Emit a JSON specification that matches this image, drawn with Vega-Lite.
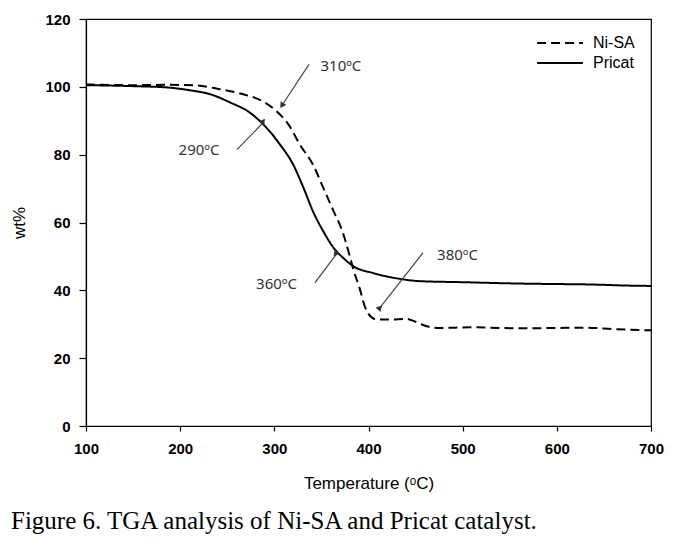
{
  "$schema": "https://vega.github.io/schema/vega-lite/v6.json",
  "width": 565,
  "height": 407,
  "autosize": {"type": "none"},
  "padding": {"left": 86, "top": 19, "right": 31, "bottom": 124},
  "background": "white",
  "config": {
    "view": {"stroke": "black", "strokeWidth": 1.2},
    "axis": {
      "grid": false,
      "labelFlush": false,
      "domainColor": "black",
      "domainWidth": 1.2,
      "tickColor": "black",
      "tickWidth": 1.2,
      "labelColor": "black",
      "titleColor": "black",
      "labelFont": "Liberation Sans",
      "labelFontWeight": "bold",
      "labelFontSize": 15,
      "titleFont": "Liberation Sans",
      "titleFontWeight": "normal",
      "titleFontSize": 17
    }
  },
  "title": {
    "text": "Figure 6. TGA analysis of Ni-SA and Pricat catalyst.",
    "orient": "bottom",
    "anchor": "start",
    "font": "Liberation Serif",
    "fontSize": 25,
    "fontWeight": "normal",
    "color": "black",
    "dx": 0,
    "offset": 18
  },
  "datasets": {
    "tga": [
      {"T": 100, "wt": 100.5, "sample": "Pricat"},
      {"T": 150, "wt": 100.2, "sample": "Pricat"},
      {"T": 187, "wt": 99.8, "sample": "Pricat"},
      {"T": 210, "wt": 99.0, "sample": "Pricat"},
      {"T": 232, "wt": 97.8, "sample": "Pricat"},
      {"T": 253, "wt": 95.4, "sample": "Pricat"},
      {"T": 274, "wt": 92.4, "sample": "Pricat"},
      {"T": 288, "wt": 89.0, "sample": "Pricat"},
      {"T": 306, "wt": 83.0, "sample": "Pricat"},
      {"T": 320, "wt": 77.1, "sample": "Pricat"},
      {"T": 331, "wt": 70.2, "sample": "Pricat"},
      {"T": 341, "wt": 63.3, "sample": "Pricat"},
      {"T": 352, "wt": 57.4, "sample": "Pricat"},
      {"T": 363, "wt": 52.5, "sample": "Pricat"},
      {"T": 373, "wt": 49.6, "sample": "Pricat"},
      {"T": 384, "wt": 47.1, "sample": "Pricat"},
      {"T": 405, "wt": 45.1, "sample": "Pricat"},
      {"T": 433, "wt": 43.4, "sample": "Pricat"},
      {"T": 455, "wt": 42.7, "sample": "Pricat"},
      {"T": 500, "wt": 42.4, "sample": "Pricat"},
      {"T": 560, "wt": 42.0, "sample": "Pricat"},
      {"T": 585, "wt": 41.9, "sample": "Pricat"},
      {"T": 640, "wt": 41.7, "sample": "Pricat"},
      {"T": 675, "wt": 41.4, "sample": "Pricat"},
      {"T": 700, "wt": 41.3, "sample": "Pricat"},
      {"T": 100, "wt": 100.7, "sample": "Ni-SA"},
      {"T": 150, "wt": 100.5, "sample": "Ni-SA"},
      {"T": 187, "wt": 100.6, "sample": "Ni-SA"},
      {"T": 218, "wt": 100.4, "sample": "Ni-SA"},
      {"T": 242, "wt": 99.3, "sample": "Ni-SA"},
      {"T": 267, "wt": 97.8, "sample": "Ni-SA"},
      {"T": 288, "wt": 95.7, "sample": "Ni-SA"},
      {"T": 302, "wt": 92.9, "sample": "Ni-SA"},
      {"T": 316, "wt": 88.5, "sample": "Ni-SA"},
      {"T": 327, "wt": 83.0, "sample": "Ni-SA"},
      {"T": 341, "wt": 77.1, "sample": "Ni-SA"},
      {"T": 352, "wt": 70.2, "sample": "Ni-SA"},
      {"T": 363, "wt": 63.3, "sample": "Ni-SA"},
      {"T": 372, "wt": 57.6, "sample": "Ni-SA"},
      {"T": 378.5, "wt": 51.7, "sample": "Ni-SA"},
      {"T": 384, "wt": 46.1, "sample": "Ni-SA"},
      {"T": 391, "wt": 40.2, "sample": "Ni-SA"},
      {"T": 396, "wt": 35.3, "sample": "Ni-SA"},
      {"T": 401.6, "wt": 32.5, "sample": "Ni-SA"},
      {"T": 408.7, "wt": 31.4, "sample": "Ni-SA"},
      {"T": 423, "wt": 31.4, "sample": "Ni-SA"},
      {"T": 440, "wt": 31.6, "sample": "Ni-SA"},
      {"T": 451, "wt": 30.6, "sample": "Ni-SA"},
      {"T": 462, "wt": 29.4, "sample": "Ni-SA"},
      {"T": 476, "wt": 28.9, "sample": "Ni-SA"},
      {"T": 508, "wt": 29.1, "sample": "Ni-SA"},
      {"T": 540, "wt": 28.9, "sample": "Ni-SA"},
      {"T": 560, "wt": 28.8, "sample": "Ni-SA"},
      {"T": 600, "wt": 28.9, "sample": "Ni-SA"},
      {"T": 630, "wt": 29.0, "sample": "Ni-SA"},
      {"T": 660, "wt": 28.6, "sample": "Ni-SA"},
      {"T": 700, "wt": 28.2, "sample": "Ni-SA"}
    ],
    "notes": [
      {"label": "310ºC", "tx": 370.7, "ty": 106.0, "x1": 336.8, "y1": 106.6, "x2": 308, "y2": 94.5},
      {"label": "290ºC", "tx": 220, "ty": 81.5, "x1": 260.3, "y1": 81.5, "x2": 288, "y2": 89.4},
      {"label": "360ºC", "tx": 302.3, "ty": 41.8, "x1": 343.2, "y1": 42.3, "x2": 366.5, "y2": 50.9},
      {"label": "380ºC", "tx": 494.5, "ty": 50.3, "x1": 457.9, "y1": 51.1, "x2": 412.2, "y2": 34.9}
    ]
  },
  "layer": [
    {
      "data": {"name": "tga"},
      "mark": {"type": "line", "color": "black", "strokeWidth": 2, "interpolate": "monotone"},
      "encoding": {
        "x": {
          "field": "T", "type": "quantitative",
          "scale": {"domain": [100, 700], "nice": false},
          "axis": {"values": [100, 200, 300, 400, 500, 600, 700], "tickSize": 5, "labelPadding": 10, "title": "Temperature (ᵒC)", "titlePadding": 19}
        },
        "y": {
          "field": "wt", "type": "quantitative",
          "scale": {"domain": [0, 120], "nice": false},
          "axis": {"values": [0, 20, 40, 60, 80, 100, 120], "tickSize": 7, "labelPadding": 9, "title": "wt%", "titlePadding": 16}
        },
        "strokeDash": {
          "field": "sample", "type": "nominal",
          "scale": {"domain": ["Ni-SA", "Pricat"], "range": [[9, 5], [1, 0]]},
          "legend": {
            "title": null, "orient": "top-right", "offset": 16,
            "symbolType": "stroke", "symbolSize": 2100, "symbolStrokeWidth": 2,
            "symbolStrokeColor": "black", "labelFont": "Liberation Sans", "labelFontSize": 16,
            "labelColor": "black", "labelOffset": 9, "rowPadding": 4, "clipHeight": 16
          }
        }
      }
    },
    {
      "data": {"name": "notes"},
      "mark": {"type": "rule", "color": "#444444", "strokeWidth": 1.2},
      "encoding": {
        "x": {"field": "x1", "type": "quantitative"},
        "y": {"field": "y1", "type": "quantitative"},
        "x2": {"field": "x2"},
        "y2": {"field": "y2"}
      }
    },
    {
      "data": {"name": "notes"},
      "mark": {"type": "point", "shape": "triangle-up", "filled": true, "color": "#333333", "size": 45, "opacity": 1},
      "encoding": {
        "x": {"field": "x2", "type": "quantitative"},
        "y": {"field": "y2", "type": "quantitative"},
        "angle": {
          "field": "label", "type": "ordinal",
          "scale": {"domain": ["310ºC", "290ºC", "360ºC", "380ºC"], "range": [213, 44, 37, 218]},
          "legend": null
        }
      }
    },
    {
      "data": {"name": "notes"},
      "mark": {"type": "text", "font": "Noto Sans", "fontSize": 15, "color": "#333333", "align": "center", "baseline": "middle"},
      "encoding": {
        "x": {"field": "tx", "type": "quantitative"},
        "y": {"field": "ty", "type": "quantitative"},
        "text": {"field": "label"}
      }
    }
  ]
}
